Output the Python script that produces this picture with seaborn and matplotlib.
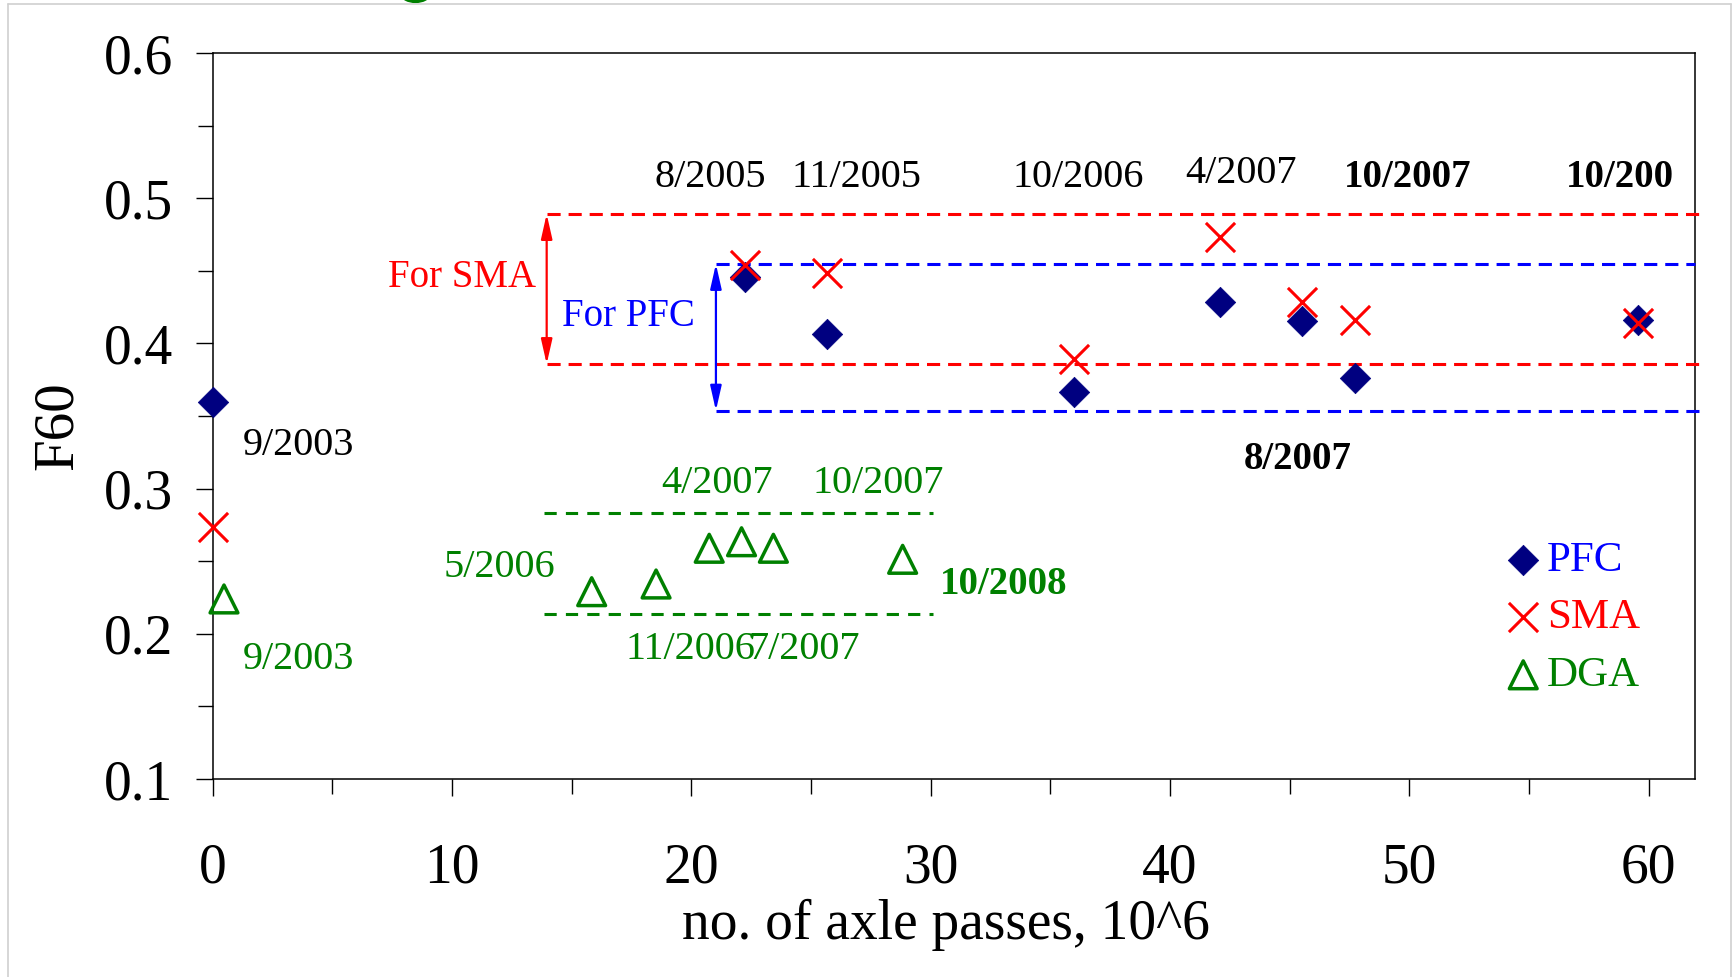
import matplotlib
matplotlib.use("Agg")
import matplotlib.pyplot as plt
from matplotlib.ticker import MultipleLocator, FormatStrFormatter
from matplotlib.lines import Line2D
from matplotlib.patches import Ellipse
import seaborn as sns
import pandas as pd

# ---------------- data ----------------
pfc_x = [0.0, 22.24, 25.66, 35.97, 42.08, 45.53, 47.74, 59.56]
pfc_y = [0.3596, 0.4455, 0.4065, 0.3667, 0.4287, 0.4157, 0.3764, 0.4161]
sma_x = [0.0, 22.24, 25.66, 35.97, 42.08, 45.53, 47.74, 59.56]
sma_y = [0.2738, 0.4540, 0.4483, 0.3890, 0.4731, 0.4287, 0.4161, 0.4138]
dga_x = [0.48, 15.84, 18.53, 20.75, 22.10, 23.43, 28.83]
dga_y = [0.2240, 0.2290, 0.2343, 0.2589, 0.2634, 0.2589, 0.2513]

series_names = ["PFC", "SMA", "DGA"]

# bounds of the acceptable ranges
sma_range = (0.3858, 0.4891)
pfc_range = (0.3537, 0.4547)
dga_range = (0.2134, 0.2830)

# date annotations: (text, x, y)
black_labels = [("8/2005", 20.78, 0.5145), ("11/2005", 26.90, 0.5145),
                ("10/2006", 36.16, 0.5145), ("4/2007", 42.96, 0.5172),
                ("9/2003", 3.60, 0.3295)]
black_bold_labels = [("10/2007", 49.94, 0.5145), ("10/200", 58.81, 0.5145),
                     ("8/2007", 45.34, 0.3203)]
green_labels = [("4/2007", 21.06, 0.3032), ("10/2007", 27.81, 0.3032),
                ("5/2006", 11.97, 0.2455), ("11/2006", 19.95, 0.1895),
                ("7/2007", 24.71, 0.1895), ("9/2003", 3.60, 0.1820)]
green_bold_labels = [("10/2008", 33.05, 0.2342)]

x_ticks = [0, 10, 20, 30, 40, 50, 60]
y_ticks = [0.1, 0.2, 0.3, 0.4, 0.5, 0.6]

# ---------------- style ----------------
sns.set_theme(style="ticks")
plt.rcParams["font.family"] = ["Liberation Serif", "DejaVu Serif"]
plt.rcParams["axes.linewidth"] = 1.1

NAVY = "#000080"
RED = "#FF0000"
BLUE = "#0000FF"
GREEN = "#008000"

fig = plt.figure(figsize=(17.35, 9.77), dpi=100)
ax = fig.add_axes([212.5 / 1735, 198 / 977, 1482.5 / 1735, 726 / 977])

pfc_df = pd.DataFrame({"x": pfc_x, "y": pfc_y})
sma_df = pd.DataFrame({"x": sma_x, "y": sma_y})
dga_df = pd.DataFrame({"x": dga_x, "y": dga_y})

sns.scatterplot(data=pfc_df, x="x", y="y", ax=ax, marker="D", s=15.5 ** 2,
                color=NAVY, edgecolor=NAVY, linewidth=0.5, label="PFC",
                zorder=4, clip_on=False)
sns.scatterplot(data=sma_df, x="x", y="y", ax=ax, marker="x", s=21 ** 2,
                color=RED, linewidth=2.2, label="SMA", zorder=5, clip_on=False)
sns.scatterplot(data=dga_df, x="x", y="y", ax=ax, marker="^", s=20 ** 2,
                color=GREEN, facecolor="none", edgecolor=GREEN, linewidth=2.5,
                label="DGA", zorder=4, clip_on=False)

# range lines
dash = (0, (4.3, 2.6))
ax.hlines(list(sma_range), 13.96, 62.4, colors=RED, linestyles=[dash], lw=2.2,
          clip_on=False, zorder=3)
ax.hlines([pfc_range[1]], 21.03, 61.93, colors=BLUE, linestyles=[dash], lw=2.2,
          clip_on=False, zorder=3)
ax.hlines([pfc_range[0]], 21.03, 62.2, colors=BLUE, linestyles=[dash], lw=2.2,
          clip_on=False, zorder=3)
ax.hlines(list(dga_range), 13.85, 30.1, colors=GREEN, linestyles=[(0, (4.0, 3.0))],
          lw=2.2, clip_on=False, zorder=3)

arrow_style = "<|-|>,head_length=0.75,head_width=0.17"
ax.annotate("", xy=(13.96, sma_range[1]), xytext=(13.96, sma_range[0]),
            arrowprops=dict(arrowstyle=arrow_style, color=RED, lw=1.6,
                            shrinkA=0, shrinkB=0, mutation_scale=20))
ax.annotate("", xy=(21.03, pfc_range[1]), xytext=(21.03, pfc_range[0]),
            arrowprops=dict(arrowstyle=arrow_style, color=BLUE, lw=1.6,
                            shrinkA=0, shrinkB=0, mutation_scale=20))

ax.text(10.42, 0.4453, "For SMA", color=RED, fontsize=28, ha="center", va="center")
ax.text(17.39, 0.4185, "For PFC", color=BLUE, fontsize=28, ha="center", va="center")

for t, x, y in black_labels:
    ax.text(x, y, t, color="black", fontsize=29, ha="center", va="center")
for t, x, y in black_bold_labels:
    ax.text(x, y, t, color="black", fontsize=28, fontweight="bold",
            ha="center", va="center")
for t, x, y in green_labels:
    ax.text(x, y, t, color=GREEN, fontsize=29, ha="center", va="center")
for t, x, y in green_bold_labels:
    ax.text(x, y, t, color=GREEN, fontsize=28, fontweight="bold",
            ha="center", va="center")

# axes
ax.set_xlim(0, 61.93)
ax.set_ylim(0.1, 0.6)
ax.set_xticks(x_ticks)
ax.set_yticks(y_ticks)
ax.xaxis.set_minor_locator(MultipleLocator(5))
ax.yaxis.set_minor_locator(MultipleLocator(0.05))
ax.yaxis.set_major_formatter(FormatStrFormatter("%.1f"))
ax.tick_params(axis="both", which="major", direction="out", length=12.5,
               width=1.0, color="black", labelsize=40, labelcolor="black")
ax.tick_params(axis="both", which="minor", direction="out", length=10.5,
               width=1.0, color="black")
ax.tick_params(axis="x", which="major", pad=33)
ax.tick_params(axis="y", which="major", pad=16)
for sp in ax.spines.values():
    sp.set_visible(True)
    sp.set_color("black")

ax.set_xlabel("no. of axle passes, 10^6", fontsize=40, color="black")
ax.xaxis.label.set_verticalalignment("center")
ax.xaxis.set_label_coords(0.4948, -0.201)
ax.set_ylabel("F60", fontsize=41, color="black")
ax.yaxis.label.set_verticalalignment("center")
ax.yaxis.set_label_coords(-0.104, 0.486)

leg = ax.legend(loc="upper left", bbox_to_anchor=(0.858, 0.352),
                frameon=False, fontsize=31, handlelength=1.0,
                handletextpad=0.05, labelspacing=0.43, borderaxespad=0,
                labelcolor=[BLUE, RED, GREEN])

# figure frame remnants
for (x0, y0, x1, y1) in [(8, 0, 8, 973), (8, 973, 1731, 973), (1731, 973, 1731, 0)]:
    fig.add_artist(Line2D([x0 / 1735, x1 / 1735], [y0 / 977, y1 / 977],
                          transform=fig.transFigure, color="#cfcfcf", lw=1.2))
fig.add_artist(Ellipse((415.5 / 1735, 983 / 977), 26 / 1735, 14 / 977,
                       transform=fig.transFigure, facecolor="none",
                       edgecolor=GREEN, lw=3))

fig.savefig("out.png", dpi=100, facecolor="white")
